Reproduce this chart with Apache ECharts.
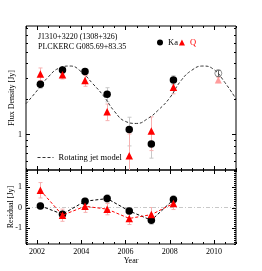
<!DOCTYPE html>
<html><head><meta charset="utf-8">
<script src="https://cdn.jsdelivr.net/npm/echarts@6/dist/echarts.min.js"></script>
<style>html,body{margin:0;padding:0;background:#fff}#c{width:262px;height:271px}</style>
</head><body><div id="c"></div>
<script>
// ---- data ----
const obsYears   = [2002.15, 2003.15, 2004.17, 2005.17, 2006.17, 2007.17, 2008.17];
const kaFlux     = [2.66, 3.51, 3.41, 2.19, 1.10, 0.83, 2.90];
const kaFluxErr  = [0.20, 0.20, 0.20, 0.30, 0.30, 0.20, 0.25];
const qFlux      = [3.26, 3.20, 2.86, 1.56, 0.66, 1.07, 2.51];
const qFluxErr   = [0.40, 0.25, 0.30, 0.25, 0.35, 0.34, 0.30];
const lateYears  = [2010.2];
const kaLate     = [3.30];
const kaLateErr  = [0.20];
const qLate      = [2.90];
const qLateErr   = [0.15];
const modelYears = [2001.5, 2002, 2002.5, 2003, 2003.5, 2004, 2004.5, 2005, 2005.5, 2006,
                    2006.5, 2007, 2007.5, 2008, 2008.5, 2009, 2009.5, 2010, 2010.5, 2011];
const modelFlux  = [1.82, 2.35, 3.06, 3.65, 3.80, 3.40, 2.72, 2.13, 1.57, 1.29,
                    1.24, 1.36, 1.62, 2.04, 2.84, 3.50, 3.80, 3.55, 2.75, 2.00];
const kaResid    = [0.08, -0.33, 0.31, 0.44, -0.17, -0.63, 0.39];
const kaResidErr = [0.15, 0.15, 0.15, 0.20, 0.15, 0.20, 0.20];
const qResid     = [0.85, -0.38, 0.06, -0.08, -0.54, -0.35, 0.20];
const qResidErr  = [0.38, 0.30, 0.30, 0.28, 0.30, 0.35, 0.30];
// ticks / labels
const yearLabels     = [2002, 2004, 2006, 2008, 2010];
const yearMinorTicks = [2001.5, 2002.5, 2003, 2003.5, 2004.5, 2005, 2005.5, 2006.5, 2007, 2007.5, 2008.5, 2009, 2009.5, 2010.5, 2011];
const fluxMajorTicks = [1];
const fluxMinorTicks = [0.5, 0.6, 0.7, 0.8, 0.9, 2, 3, 4, 5, 6, 7, 8];
const residLabels    = [-1, 0, 1];
const residMinorTicks = [];
for (let k = -18; k <= 18; k++) { if (k % 10 !== 0) residMinorTicks.push(k / 10); }

const FONT = 'Liberation Serif';
const chart = echarts.init(document.getElementById('c'), null, {renderer: 'canvas'});

function pairs(xs, ys) { return xs.map((x, i) => [x, ys[i]]); }
function errData(xs, v, e) { return xs.map((x, i) => [x, v[i] - e[i], v[i] + e[i]]); }
function errSeries(xi, yi, data, color) {
  return {
    type: 'custom', xAxisIndex: xi, yAxisIndex: yi, silent: true, clip: true, z: 2,
    encode: {x: 0, y: [1, 2]},
    renderItem: (p, api) => {
      const a = api.coord([api.value(0), api.value(1)]);
      const b = api.coord([api.value(0), api.value(2)]);
      const x = Math.round(a[0]) + 0.5, c = 2;
      const st = {stroke: color, lineWidth: 1};
      return {type: 'group', children: [
        {type: 'line', shape: {x1: x, y1: a[1], x2: x, y2: b[1]}, style: st},
        {type: 'line', shape: {x1: x - c, y1: a[1], x2: x + c, y2: a[1]}, style: st},
        {type: 'line', shape: {x1: x - c, y1: b[1], x2: x + c, y2: b[1]}, style: st}
      ]};
    },
    data: data
  };
}
function tickSeries(xi, yi, xMaj, xMin, yMaj, yMin, xRef, yRef) {
  const data = [];
  xMaj.forEach(v => data.push([v, yRef, 4, 0]));
  xMin.forEach(v => data.push([v, yRef, 2, 0]));
  yMaj.forEach(v => data.push([xRef, v, 4, 1]));
  yMin.forEach(v => data.push([xRef, v, 2, 1]));
  return {
    type: 'custom', xAxisIndex: xi, yAxisIndex: yi, silent: true, clip: false, z: 10,
    encode: {x: 0, y: 1},
    renderItem: (p, api) => {
      const cs = p.coordSys;
      const pt = api.coord([api.value(0), api.value(1)]);
      const len = api.value(2);
      const st = {stroke: '#000', lineWidth: 1};
      if (api.value(3) === 0) {
        const x = Math.round(pt[0]) + 0.5;
        return {type: 'group', children: [
          {type: 'line', shape: {x1: x, y1: cs.y, x2: x, y2: cs.y + len}, style: st},
          {type: 'line', shape: {x1: x, y1: cs.y + cs.height, x2: x, y2: cs.y + cs.height - len}, style: st}
        ]};
      }
      const y = Math.round(pt[1]) + 0.5;
      return {type: 'group', children: [
        {type: 'line', shape: {x1: cs.x, y1: y, x2: cs.x + len, y2: y}, style: st},
        {type: 'line', shape: {x1: cs.x + cs.width, y1: y, x2: cs.x + cs.width - len, y2: y}, style: st}
      ]};
    },
    data: data
  };
}

const X0 = 2001.5, X1 = 2011;
const baseText = {fontFamily: FONT, fontSize: 8, color: '#000'};

const option = {
  animation: false,
  backgroundColor: '#fff',
  title: {
    text: 'J1310+3220 (1308+326)\nPLCKERC G085.69+83.35',
    left: 38, top: 32, padding: 0,
    textStyle: {fontFamily: FONT, fontSize: 8, fontWeight: 'normal', color: '#000', lineHeight: 10}
  },
  legend: [
    {left: 157, top: 38, padding: 0, itemWidth: 6, itemHeight: 6, itemGap: 1, selectedMode: false,
     textStyle: {fontFamily: FONT, fontSize: 8.5, color: '#000'},
     data: [{name: 'Ka', icon: 'circle', textStyle: {color: '#000'}},
            {name: 'Q', icon: 'triangle', textStyle: {color: '#ff0000'}}]},
    {left: 37, top: 153, padding: 0, itemWidth: 16, itemHeight: 8, selectedMode: false,
     itemStyle: {opacity: 0}, lineStyle: {width: 1},
     textStyle: {fontFamily: FONT, fontSize: 8.5, color: '#000'},
     data: ['Rotating jet model']}
  ],
  grid: [
    {left: 26, top: 26, width: 210, height: 144, show: true, borderColor: '#000', borderWidth: 1,
     backgroundColor: 'transparent', containLabel: false, outerBoundsMode: 'none'},
    {left: 26, top: 170, width: 210, height: 74, show: true, borderColor: '#000', borderWidth: 1,
     backgroundColor: 'transparent', containLabel: false, outerBoundsMode: 'none'}
  ],
  xAxis: [
    {gridIndex: 0, type: 'value', min: X0, max: X1, axisLine: {show: false}, axisTick: {show: false},
     axisLabel: {show: false}, splitLine: {show: false}},
    {gridIndex: 1, type: 'value', min: X0, max: X1, axisLine: {show: false}, axisTick: {show: false},
     splitLine: {show: false},
     axisLabel: Object.assign({customValues: yearLabels, margin: 4, formatter: v => String(Math.round(v))}, baseText),
     name: 'Year', nameLocation: 'middle', nameGap: 13, nameMoveOverlap: false, nameTextStyle: baseText}
  ],
  yAxis: [
    {gridIndex: 0, type: 'log', logBase: 10, min: 0.5, max: 8.3,
     axisLine: {show: false}, axisTick: {show: false}, splitLine: {show: false}, minorTick: {show: false},
     axisLabel: Object.assign({margin: 4, formatter: v => (Math.abs(v - 1) < 1e-6 ? '1' : '')}, baseText),
     name: 'Flux Density [Jy]', nameLocation: 'middle', nameGap: 10, nameRotate: 90, nameMoveOverlap: false,
     nameTextStyle: baseText},
    {gridIndex: 1, type: 'value', min: -1.8, max: 1.85,
     axisLine: {show: false}, axisTick: {show: false}, splitLine: {show: false},
     axisLabel: Object.assign({customValues: residLabels, margin: 4, formatter: v => String(Math.round(v))}, baseText),
     name: 'Residual [Jy]', nameLocation: 'middle', nameGap: 11, nameRotate: 90, nameMoveOverlap: false,
     nameTextStyle: baseText}
  ],
  series: [
    tickSeries(0, 0, yearLabels, yearMinorTicks, fluxMajorTicks, fluxMinorTicks, X0, 1),
    tickSeries(1, 1, yearLabels, yearMinorTicks, residLabels, residMinorTicks, X0, 0),
    {type: 'line', name: 'Rotating jet model', xAxisIndex: 0, yAxisIndex: 0, data: pairs(modelYears, modelFlux),
     smooth: true, symbol: 'none', z: 3, silent: true,
     lineStyle: {color: '#333', width: 1, type: [3, 2]}, itemStyle: {color: '#333'}},
    errSeries(0, 0, errData(obsYears, kaFlux, kaFluxErr), '#c8c8c8'),
    errSeries(0, 0, errData(obsYears, qFlux, qFluxErr), '#f7b0b0'),
    errSeries(0, 0, errData(lateYears, kaLate, kaLateErr), '#666'),
    errSeries(0, 0, errData(lateYears, qLate, qLateErr), '#f7a0a0'),
    {type: 'scatter', name: 'Ka', xAxisIndex: 0, yAxisIndex: 0, data: pairs(obsYears, kaFlux),
     symbol: 'circle', symbolSize: 7.5, itemStyle: {color: '#000', opacity: 1}, z: 5},
    {type: 'scatter', name: 'Q', xAxisIndex: 0, yAxisIndex: 0, data: pairs(obsYears, qFlux),
     symbol: 'triangle', symbolSize: 7.5, itemStyle: {color: '#ff0000', opacity: 1}, z: 6},
    {type: 'scatter', name: 'Ka late', xAxisIndex: 0, yAxisIndex: 0, data: pairs(lateYears, kaLate),
     symbol: 'circle', symbolSize: 7, itemStyle: {color: 'rgba(255,255,255,0)', borderColor: '#777', borderWidth: 1}, z: 5},
    {type: 'scatter', name: 'Q late', xAxisIndex: 0, yAxisIndex: 0, data: pairs(lateYears, qLate),
     symbol: 'triangle', symbolSize: 7, itemStyle: {color: '#ff9c9c', opacity: 1}, z: 4},
    errSeries(1, 1, errData(obsYears, kaResid, kaResidErr), '#c8c8c8'),
    errSeries(1, 1, errData(obsYears, qResid, qResidErr), '#f7b0b0'),
    {type: 'line', name: 'Ka residual', xAxisIndex: 1, yAxisIndex: 1, data: pairs(obsYears, kaResid),
     symbol: 'circle', symbolSize: 7.5, z: 5,
     itemStyle: {color: '#000'}, lineStyle: {color: '#000', width: 1, type: [3, 2]},
     markLine: {silent: true, symbol: 'none', label: {show: false}, data: [{yAxis: 0}],
                lineStyle: {color: '#c8c8c8', width: 1, type: [4, 2, 1, 2]}}},
    {type: 'line', name: 'Q residual', xAxisIndex: 1, yAxisIndex: 1, data: pairs(obsYears, qResid),
     symbol: 'triangle', symbolSize: 7.5, z: 6,
     itemStyle: {color: '#ff0000'}, lineStyle: {color: '#ff0000', width: 1, type: [3, 2]}}
  ]
};
chart.setOption(option);
</script>
</body></html>
